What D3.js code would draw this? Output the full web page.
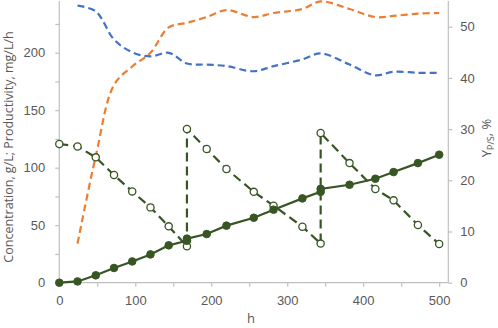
<!DOCTYPE html>
<html><head><meta charset="utf-8">
<script src="https://cdn.jsdelivr.net/npm/d3@7"></script>
<style>
body{margin:0;background:#fff;}
svg{display:block;font-family:"Open Sans",sans-serif;}
.axis text{fill:#595959;font-size:13px;}
.axis path,.axis line{stroke:#bfbfbf;stroke-width:1.2;}
</style></head>
<body><svg id="c" width="498" height="328"></svg>
<script>
// Time points (h)
const timeMain = [0,24,48,72,96,120,144,168,168,194,220,256,282,320,344,344,382,416,440,472,500];
// Product concentration (g/L), filled markers
const product = [0,1.1,6.4,12.8,18.5,24.6,32.5,36.5,38.3,42.3,49.6,56.5,63.5,73.3,79,81.6,85.2,90.4,96.2,104,111.3];
// Substrate concentration (g/L), open markers (feeding at 168 h and 344 h)
const substrate = [120.6,118.5,109,93.6,79.4,65.5,49,31.6,133.6,116.3,98.9,79,67,48.7,34,130.2,104,81.5,71.6,50.2,33.6];
// Productivity (mg/L/h) and yield (%)
const timeRate = [24,48,72,96,120,144,168,194,220,256,282,320,344,382,416,440,472,500];
const productivity = [34,110,172,188,200,222,226,231,237,231,234.5,238,244.6,238,231,232,234,234.5];
const yieldPS = [54.1,53,47.5,45,44.2,44.9,42.8,42.6,42.3,41.3,42.3,43.6,44.8,42.6,40.5,41.2,41,41];
const xTicks = d3.range(0,501,50);
const yLeftTicks = d3.range(0,226,25);
const yRightTicks = d3.range(0,51,10);

const green = "#375623", orange = "#ED7D31", blue = "#4472C4";
const svg = d3.select("#c");
const x = d3.scaleLinear([0,512],[59.3,448.3]);
const yL = d3.scaleLinear([0,245],[282.7,0.95]);
const yR = d3.scaleLinear([0,55],[282.7,1.1]);

svg.append("g").attr("class","axis").attr("transform","translate(0,282.7)")
  .call(d3.axisBottom(x).tickValues(xTicks).tickSize(4).tickSizeOuter(0).tickPadding(9)
    .tickFormat(d=>d%100===0?d:""));
svg.append("g").attr("class","axis").attr("transform","translate(59.3,0)")
  .call(d3.axisLeft(yL).tickValues(yLeftTicks).tickSize(4).tickSizeOuter(0).tickPadding(10)
    .tickFormat(d=>d%50===0?d:""));
svg.append("g").attr("class","axis").attr("transform","translate(448.3,0)")
  .call(d3.axisRight(yR).tickValues(yRightTicks).tickSize(4).tickSizeOuter(0).tickPadding(8));
// extend axis lines to top
svg.selectAll(".axis path.domain").remove();
svg.append("line").attr("x1",59.3).attr("x2",59.3).attr("y1",0.95).attr("y2",282.7).attr("stroke","#bfbfbf").attr("stroke-width",1.2);
svg.append("line").attr("x1",448.3).attr("x2",448.3).attr("y1",0.95).attr("y2",282.7).attr("stroke","#bfbfbf").attr("stroke-width",1.2);
svg.append("line").attr("x1",59.3).attr("x2",448.3).attr("y1",282.7).attr("y2",282.7).attr("stroke","#bfbfbf").attr("stroke-width",1.2);

// titles
svg.append("text").attr("x",251).attr("y",323).attr("text-anchor","middle")
  .attr("fill","#595959").style("font-size","13px").text("h");
svg.append("text").attr("transform","translate(13,147) rotate(-90)").attr("text-anchor","middle")
  .attr("fill","#595959").style("font-size","12.5px").text("Concentration, g/L; Productivity, mg/L/h");
const rt = svg.append("text").attr("transform","translate(491,138) rotate(-90)").attr("text-anchor","middle")
  .attr("fill","#595959").style("font-size","13px");
rt.append("tspan").text("Y");
rt.append("tspan").attr("dy",3).style("font-size","9px").text("P/S");
rt.append("tspan").attr("dy",-3).text(", %");

// productivity and yield smoothed dashed lines
const rates = timeRate.map((t,i)=>({t,p:productivity[i],y:yieldPS[i]}));
svg.append("path").datum(rates).attr("fill","none").attr("stroke",orange).attr("stroke-width",2.2)
  .attr("stroke-dasharray","7,4")
  .attr("d",d3.line().x(d=>x(d.t)).y(d=>yL(d.p)).curve(d3.curveCatmullRom));
svg.append("path").datum(rates).attr("fill","none").attr("stroke",blue).attr("stroke-width",2.2)
  .attr("stroke-dasharray","7,4")
  .attr("d",d3.line().x(d=>x(d.t)).y(d=>yR(d.y)).curve(d3.curveCatmullRom));

// substrate dashed line
const main = timeMain.map((t,i)=>({t,p:product[i],s:substrate[i]}));
svg.append("path").datum(main).attr("fill","none").attr("stroke",green).attr("stroke-width",2.2)
  .attr("stroke-dasharray","9,5")
  .attr("d",d3.line().x(d=>x(d.t)).y(d=>yL(d.s)));
// product solid line
svg.append("path").datum(main).attr("fill","none").attr("stroke",green).attr("stroke-width",2.2)
  .attr("d",d3.line().x(d=>x(d.t)).y(d=>yL(d.p)));
// markers
svg.append("g").selectAll("circle").data(main).join("circle")
  .attr("cx",d=>x(d.t)).attr("cy",d=>yL(d.s)).attr("r",3.6)
  .attr("fill","#fff").attr("stroke",green).attr("stroke-width",1.3);
svg.append("g").selectAll("circle").data(main).join("circle")
  .attr("cx",d=>x(d.t)).attr("cy",d=>yL(d.p)).attr("r",3.8)
  .attr("fill",green).attr("stroke",green).attr("stroke-width",1);
</script></body></html>
